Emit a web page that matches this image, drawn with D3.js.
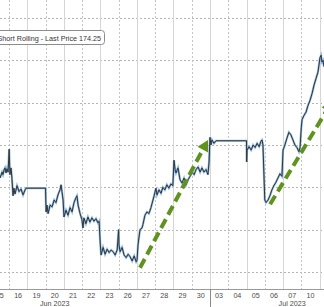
<!DOCTYPE html>
<html>
<head>
<meta charset="utf-8">
<script src="https://cdn.jsdelivr.net/npm/d3@7"></script>
<style>
  html, body { margin: 0; padding: 0; background: #fff; }
  svg { display: block; }
</style>
</head>
<body>
<svg id="fig_chart"></svg>
<script>
'use strict';

// trading sessions shown on the x axis (one slot each)
var day_labels = ['15', '16', '19', '20', '21', '22', '23', '26', '27', '28',
                  '29', '30', '03', '04', '05', '06', '07', '10'];
var month_labels = [
    { label: 'Jun 2023', t: 3.5 },
    { label: 'Jul 2023', t: 16.5 }
];
var month_break = 12;   // session where July starts

// price gridlines
var price_ticks = [150, 155, 160, 165, 170, 175, 180];

// [session time, price]
var price_series = [
    [0.51, 161.1], [0.62, 161.8], [0.67, 161.5], [0.73, 162.05], [0.78, 162.3], [0.84, 161.7], [0.89, 162.2], [0.95, 161.8],
    [1.01, 164.5], [1.05, 161.5], [1.11, 162.3], [1.16, 161.1], [1.22, 159.0], [1.27, 159.9], [1.33, 159.2], [1.44, 160.2],
    [1.55, 159.5], [1.66, 159.8], [1.77, 159.1], [1.88, 159.7], [1.93, 159.9],
    [3.0, 159.9],
    [3.03, 157.1], [3.08, 157.9], [3.14, 156.9], [3.25, 157.9], [3.36, 157.7], [3.47, 158.5], [3.57, 158.2], [3.68, 159.1],
    [3.79, 159.7], [3.85, 160.3], [3.90, 159.5], [3.96, 158.5],
    [4.01, 156.5], [4.12, 157.3], [4.23, 156.7], [4.34, 157.6], [4.45, 157.1], [4.56, 158.2], [4.67, 158.8], [4.72, 159.0],
    [4.78, 157.9], [4.89, 156.9], [4.99, 156.2],
    [5.05, 155.2], [5.10, 156.4], [5.21, 155.7], [5.32, 156.5], [5.43, 155.9], [5.54, 156.4], [5.65, 156.0], [5.76, 156.3],
    [5.87, 155.8], [5.93, 156.0],
    [6.0, 153.2], [6.04, 152.0], [6.15, 152.9], [6.26, 152.1], [6.37, 152.7], [6.48, 152.3], [6.59, 152.6], [6.70, 152.4],
    [6.81, 152.0], [6.92, 152.6],
    [7.0, 155.0], [7.02, 153.2], [7.08, 152.4], [7.19, 152.9], [7.30, 152.0], [7.41, 151.7], [7.52, 152.1], [7.63, 151.8],
    [7.74, 151.3], [7.85, 151.9], [7.96, 151.2],
    [8.01, 151.4], [8.06, 153.2], [8.17, 155.0], [8.28, 155.2], [8.33, 155.6], [8.44, 156.7], [8.55, 157.1], [8.66, 156.9],
    [8.77, 157.6], [8.88, 158.5], [8.93, 158.9],
    [9.04, 159.9], [9.10, 159.1], [9.21, 159.7], [9.32, 159.3], [9.42, 160.0], [9.53, 159.7], [9.64, 160.3], [9.75, 159.9],
    [9.86, 160.4], [9.97, 160.2],
    [10.03, 163.2], [10.09, 162.1], [10.14, 161.7], [10.25, 162.3], [10.36, 160.9], [10.47, 160.5], [10.58, 161.1],
    [10.69, 160.3], [10.80, 160.9], [10.91, 161.3],
    [11.02, 161.8], [11.13, 161.5], [11.24, 162.1], [11.35, 162.4], [11.46, 161.8], [11.56, 162.3], [11.67, 161.8],
    [11.78, 162.1], [11.89, 161.5], [11.95, 163.0],
    [12.0, 165.9], [12.05, 165.0], [12.11, 165.6], [12.22, 165.2], [12.33, 165.5],
    [14.0, 165.5],
    [14.01, 163.0], [14.03, 164.4], [14.14, 164.8], [14.25, 164.4], [14.36, 165.0], [14.47, 164.7], [14.58, 165.2],
    [14.69, 164.8], [14.80, 165.5], [14.85, 165.6], [14.90, 165.0],
    [15.0, 158.5], [15.07, 158.2], [15.18, 158.5], [15.28, 159.0], [15.39, 159.7], [15.50, 160.2], [15.61, 160.6],
    [15.72, 161.1], [15.83, 161.6], [15.94, 161.3],
    [16.0, 164.4], [16.10, 165.0], [16.21, 165.8], [16.32, 166.5], [16.43, 166.2], [16.54, 165.6], [16.65, 165.0],
    [16.76, 164.7], [16.87, 164.2], [16.93, 164.7],
    [17.0, 167.1], [17.04, 168.0], [17.15, 168.5], [17.26, 168.9], [17.37, 169.7], [17.48, 170.3], [17.59, 171.1],
    [17.70, 172.1], [17.81, 172.9], [17.91, 173.6],
    [18.02, 175.3], [18.08, 175.6], [18.13, 174.8], [18.19, 175.0], [18.24, 174.25]
];
var last_price = 174.25;

// hand-drawn trend arrows: [from, to] in [session time, price]
var trend_arrows = [
    { from: [8.17, 150.5], to: [11.89, 165.6] },
    { from: [15.29, 158.0], to: [18.7, 170.2] }
];

var fig = {
    width: 324,
    height: 307,
    plot_top: 0,
    axis_y: 289,
    font_size: 7.2,
    color_grid: '#b4b4b4',
    color_text: '#4a4a4a',
    color_line: '#333333',
    color_halo: '#8dbbe3',
    color_arrow: '#5f921e',

    draw: function() {
        var svg = d3.select('#fig_chart')
            .attr('width', this.width)
            .attr('height', this.height)
            .style('font-family', '"Liberation Sans", Arial, sans-serif');

        var x = d3.scaleLinear().domain([0, 18]).range([-9.27, 319.6]);
        var y = d3.scaleLinear().domain([150, 180]).range([272, 18]);

        svg.append('rect')
            .attr('width', this.width).attr('height', this.height)
            .attr('fill', '#fff');

        // horizontal dotted grid
        svg.append('g').selectAll('line')
            .data(price_ticks)
            .enter().append('line')
            .attr('x1', 0).attr('x2', this.width)
            .attr('y1', function(d) { return Math.round(y(d)) + 0.5; })
            .attr('y2', function(d) { return Math.round(y(d)) + 0.5; })
            .attr('stroke', this.color_grid)
            .attr('stroke-dasharray', '2,2');

        // vertical grid at session boundaries
        var bounds = d3.range(1, day_labels.length + 1);
        svg.append('g').selectAll('line')
            .data(bounds)
            .enter().append('line')
            .attr('x1', function(d) { return Math.round(x(d)) + 0.5; })
            .attr('x2', function(d) { return Math.round(x(d)) + 0.5; })
            .attr('y1', this.plot_top)
            .attr('y2', this.axis_y)
            .attr('stroke', function(d) { return d % 2 == 0 ? '#d6d6d6' : '#c4c4c4'; })
            .attr('stroke-dasharray', function(d) { return d % 2 == 0 ? null : '2,2'; });

        // price line: light blue halo with dark line on top
        var line = d3.line()
            .x(function(d) { return x(d[0]); })
            .y(function(d) { return y(d[1]); });
        svg.append('path')
            .datum(price_series)
            .attr('d', line)
            .attr('fill', 'none')
            .attr('stroke', this.color_halo)
            .attr('stroke-width', 2.2);
        svg.append('path')
            .datum(price_series)
            .attr('d', line)
            .attr('fill', 'none')
            .attr('stroke', this.color_line)
            .attr('stroke-width', 1);

        // trend arrows
        var g_arrows = svg.append('g');
        trend_arrows.forEach(function(a) {
            var x1 = x(a.from[0]), y1 = y(a.from[1]);
            var x2 = x(a.to[0]), y2 = y(a.to[1]);
            var ang = Math.atan2(y2 - y1, x2 - x1);
            var head = 11, half = 6;
            // stop the shaft short of the head
            var sx = x2 - Math.cos(ang) * head * 0.8;
            var sy = y2 - Math.sin(ang) * head * 0.8;
            g_arrows.append('line')
                .attr('x1', x1).attr('y1', y1)
                .attr('x2', sx).attr('y2', sy)
                .attr('stroke', fig.color_arrow)
                .attr('stroke-width', 4)
                .attr('stroke-dasharray', '10,5');
            var bx = x2 - Math.cos(ang) * head, by = y2 - Math.sin(ang) * head;
            var px = -Math.sin(ang) * half, py = Math.cos(ang) * half;
            g_arrows.append('path')
                .attr('d', 'M' + x2 + ',' + y2 +
                    'L' + (bx + px) + ',' + (by + py) +
                    'L' + (bx - px) + ',' + (by - py) + 'Z')
                .attr('fill', fig.color_arrow);
        });

        // legend box (left part is cut off by the frame)
        var g_leg = svg.append('g');
        g_leg.append('rect')
            .attr('x', -20.5).attr('y', 30.5)
            .attr('width', 125).attr('height', 14)
            .attr('rx', 3)
            .attr('fill', '#fff')
            .attr('stroke', '#8c8c8c');
        g_leg.append('text')
            .attr('x', 101)
            .attr('y', 40.5)
            .attr('font-size', this.font_size)
            .attr('text-anchor', 'end')
            .attr('fill', '#333')
            .text('Short Rolling - Last Price ' + last_price.toFixed(2));

        // x axis
        svg.append('line')
            .attr('x1', 0).attr('x2', this.width)
            .attr('y1', this.axis_y + 0.5).attr('y2', this.axis_y + 0.5)
            .attr('stroke', '#9a9a9a');
        svg.append('line')
            .attr('x1', Math.round(x(month_break)) + 0.5)
            .attr('x2', Math.round(x(month_break)) + 0.5)
            .attr('y1', this.axis_y).attr('y2', this.height)
            .attr('stroke', '#8a8a8a');

        svg.append('g').selectAll('text')
            .data(day_labels)
            .enter().append('text')
            .attr('x', function(d, i) { return x(i + 0.5); })
            .attr('y', 297.5)
            .attr('font-size', this.font_size)
            .attr('text-anchor', 'middle')
            .attr('fill', this.color_text)
            .text(function(d) { return d; });

        svg.append('g').selectAll('text')
            .data(month_labels)
            .enter().append('text')
            .attr('x', function(d) { return x(d.t); })
            .attr('y', 305.5)
            .attr('font-size', this.font_size)
            .attr('text-anchor', 'middle')
            .attr('fill', this.color_text)
            .text(function(d) { return d.label; });
    }
};

fig.draw();
</script>
</body>
</html>
